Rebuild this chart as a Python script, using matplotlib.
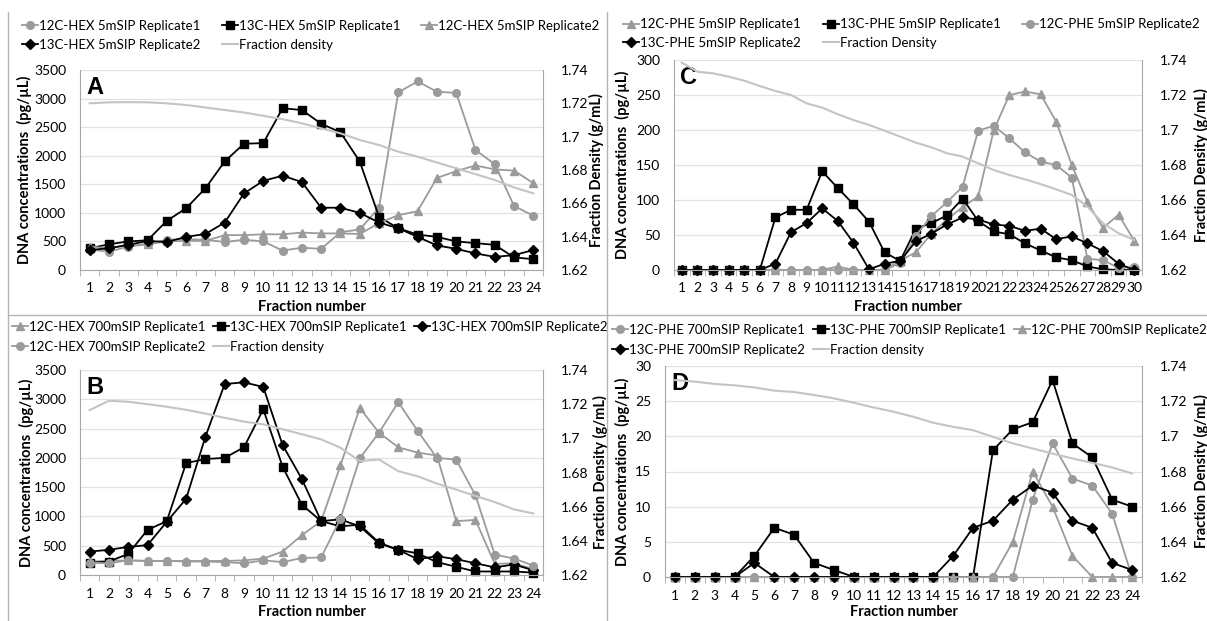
import matplotlib
matplotlib.use("Agg")
import matplotlib.pyplot as plt
from matplotlib.lines import Line2D
from matplotlib.ticker import FuncFormatter
import numpy as np

plt.rcParams['font.family'] = ['Lato', 'DejaVu Sans']

frac24 = list(range(1, 25))
frac30 = list(range(1, 31))

# panel A - HEX 5mSIP
a_12c_r1 = [360, 320, 410, 450, 530, 540, 530, 490, 530, 500, 340, 390, 370, 660, 710, 1090, 3110, 3300, 3120, 3100, 2100, 1850, 1120, 950]
a_13c_r1 = [380, 450, 500, 520, 860, 1080, 1430, 1900, 2210, 2220, 2830, 2800, 2560, 2410, 1900, 930, 730, 620, 580, 500, 470, 440, 220, 190]
a_12c_r2 = [410, 380, 440, 450, 500, 510, 510, 610, 610, 625, 625, 655, 640, 640, 630, 820, 960, 1030, 1610, 1730, 1830, 1760, 1740, 1520]
a_13c_r2 = [350, 380, 440, 510, 490, 580, 630, 830, 1340, 1560, 1650, 1540, 1090, 1090, 1000, 830, 730, 580, 430, 370, 290, 230, 260, 350]
a_density = [1.7200, 1.7206, 1.7207, 1.7206, 1.7200, 1.7190, 1.7175, 1.7160, 1.7145, 1.7125, 1.7105, 1.7080,
             1.7050, 1.7020, 1.6980, 1.6950, 1.6910, 1.6880, 1.6845, 1.6810, 1.6775, 1.6740, 1.6695, 1.6660]

# panel B - HEX 700mSIP
b_12c_r1 = [230, 240, 250, 240, 240, 240, 240, 240, 250, 280, 400, 680, 920, 1870, 2850, 2430, 2180, 2090, 2040, 920, 940, 190, 200, 100]
b_13c_r1 = [210, 230, 360, 770, 920, 1910, 1980, 2000, 2180, 2830, 1850, 1200, 920, 830, 860, 550, 430, 370, 220, 140, 60, 60, 60, 40]
b_13c_r2 = [400, 430, 480, 510, 910, 1300, 2360, 3260, 3290, 3210, 2220, 1640, 920, 950, 830, 540, 430, 270, 320, 270, 200, 130, 180, 80]
b_12c_r2 = [210, 200, 250, 240, 240, 230, 230, 220, 200, 250, 220, 290, 300, 960, 1990, 2430, 2950, 2460, 2000, 1970, 1360, 350, 280, 160]
b_density = [1.7165, 1.7220, 1.7214, 1.7200, 1.7185, 1.7167, 1.7145, 1.7120, 1.7098, 1.7082, 1.7053, 1.7024,
             1.6994, 1.6945, 1.6867, 1.6876, 1.6808, 1.6778, 1.6735, 1.6700, 1.6663, 1.6627, 1.6584, 1.6560]

# panel C - PHE 5mSIP
c_12c_r1 = [0, 0, 0, 0, 0, 0, 0, 0, 0, 0, 5, 0, 0, 0, 14, 25, 52, 72, 90, 105, 200, 250, 255, 251, 212, 150, 97, 60, 79, 42]
c_13c_r1 = [0, 0, 0, 0, 0, 0, 75, 86, 86, 141, 117, 94, 69, 25, 13, 59, 67, 78, 102, 70, 55, 51, 38, 28, 18, 14, 5, 1, 0, 0]
c_12c_r2 = [0, 0, 0, 0, 0, 0, 0, 0, 0, 0, 0, 0, 0, 0, 10, 49, 77, 97, 119, 199, 206, 188, 168, 155, 150, 132, 16, 14, 3, 4]
c_13c_r2 = [0, 0, 0, 0, 0, 0, 9, 54, 67, 88, 70, 39, 1, 9, 13, 41, 52, 65, 75, 72, 65, 63, 56, 59, 44, 48, 38, 27, 9, 0]
c_density = [1.7385, 1.7333, 1.7324, 1.7305, 1.7282, 1.7251, 1.7223, 1.7200, 1.7152, 1.7128, 1.7090, 1.7057,
             1.7029, 1.6996, 1.6962, 1.6928, 1.6901, 1.6867, 1.6848, 1.6810, 1.6771, 1.6743, 1.6718, 1.6691,
             1.6661, 1.6629, 1.6562, 1.6467, 1.6410, 1.6371]

# panel D - PHE 700mSIP
d_12c_r1 = [0, 0, 0, 0, 0, 0, 0, 0, 0, 0, 0, 0, 0, 0, 0, 0, 0, 0, 11, 19, 14, 13, 9, 0]
d_13c_r1 = [0, 0, 0, 0, 3, 7, 6, 2, 1, 0, 0, 0, 0, 0, 0, 0, 18, 21, 22, 28, 19, 17, 11, 10]
d_12c_r2 = [0, 0, 0, 0, 0, 0, 0, 0, 0, 0, 0, 0, 0, 0, 0, 0, 0, 5, 15, 10, 3, 0, 0, 0]
d_13c_r2 = [0, 0, 0, 0, 2, 0, 0, 0, 0, 0, 0, 0, 0, 0, 3, 7, 8, 11, 13, 12, 8, 7, 2, 1]
d_density = [1.7320, 1.7311, 1.7298, 1.7290, 1.7278, 1.7260, 1.7252, 1.7235, 1.7216, 1.7191, 1.7164, 1.7140,
             1.7111, 1.7077, 1.7054, 1.7035, 1.6997, 1.6960, 1.6931, 1.6902, 1.6874, 1.6849, 1.6823, 1.6789]

GRAY = '#9b9b9b'
BLACK = '#000000'
DENS = '#c4c4c4'
AXC = '#a8a8a8'
W, H = 1207, 621

marks = {
    'o': dict(marker='o', ms=5.5),
    's': dict(marker='s', ms=5.3),
    '^': dict(marker='^', ms=6.2),
    'D': dict(marker='D', ms=4.6),
}


def px_rect(l, r, t, b):
    return [l / W, 1 - b / H, (r - l) / W, (b - t) / H]


def panel(box, x, series, density, dens_label, ymax, ystep, letter,
          leg_cols, leg_top, leg_gap, ylab_x, rlab_x, xlab_y):
    ax = fig.add_axes(px_rect(*box))
    ax2 = ax.twinx()
    hs = []
    for label, vals, color, mk in series:
        h, = ax.plot(x, vals, color=color, lw=1.3, mec=color, mfc=color,
                     clip_on=False, label=label, **marks[mk])
        hs.append(h)
    hd, = ax2.plot(x, density, color=DENS, lw=1.5, label=dens_label)

    n = len(x)
    ax.set_xlim(0.5, n + 0.5)
    ax.set_ylim(0, ymax)
    ax.set_yticks(np.arange(0, ymax + ystep / 2, ystep))
    ax2.set_ylim(1.62, 1.74)
    ax2.set_yticks([1.62, 1.64, 1.66, 1.68, 1.70, 1.72, 1.74])
    ax2.yaxis.set_major_formatter(FuncFormatter(lambda v, p: '{:g}'.format(round(v, 2))))
    ax.set_xticks(x)
    ax.set_xticks(np.arange(0.5, n + 1), minor=True)

    ax.yaxis.grid(True, color='#e2e2e2', lw=0.9)
    ax.set_axisbelow(True)
    for s in ['top', 'right']:
        ax.spines[s].set_visible(False)
    for s in ['top', 'left', 'bottom']:
        ax2.spines[s].set_visible(False)
    ax.spines['left'].set_color(AXC)
    ax.spines['bottom'].set_color(AXC)
    ax2.spines['right'].set_color(AXC)

    ax.tick_params(axis='x', which='major', length=0, pad=9, labelsize=10)
    ax.tick_params(axis='x', which='minor', length=4, color=AXC)
    ax.tick_params(axis='y', length=0, pad=10, labelsize=10)
    ax2.tick_params(axis='y', length=0, pad=12.5, labelsize=10)

    ax.set_ylabel('DNA concentrations  (pg/µL)', fontsize=10.5, fontweight='bold')
    ax.yaxis.set_label_coords(ylab_x, 0.5)
    ax2.set_ylabel('Fraction Density (g/mL)', fontsize=10.5, fontweight='bold')
    ax2.yaxis.set_label_coords(rlab_x, 0.5)
    ax.set_xlabel('Fraction number', fontsize=10.5, fontweight='bold')
    ax.xaxis.set_label_coords(0.5, xlab_y)

    ax.text(0.013, 0.97, letter, transform=ax.transAxes, ha='left', va='top',
            fontsize=17, fontweight='bold', family='Liberation Sans')

    # Excel-style legend: filled row by row, columns at fixed positions
    cols = [[hs[0], hs[3]], [hs[1], hd], [hs[2]]]
    for xc, col in zip(leg_cols, cols):
        fig.legend(col, [h.get_label() for h in col], loc='upper left',
                   bbox_to_anchor=(xc / W, 1 - leg_top / H),
                   frameon=False, fontsize=9.5, handlelength=1.2,
                   handletextpad=0.1, labelspacing=leg_gap,
                   borderpad=0, borderaxespad=0)
    return ax


fig = plt.figure(figsize=(W / 100, H / 100), dpi=100)

panel((80, 543, 70, 270), frac24,
      [('12C-HEX 5mSIP Replicate1', a_12c_r1, GRAY, 'o'),
       ('13C-HEX 5mSIP Replicate1', a_13c_r1, BLACK, 's'),
       ('12C-HEX 5mSIP Replicate2', a_12c_r2, GRAY, '^'),
       ('13C-HEX 5mSIP Replicate2', a_13c_r2, BLACK, 'D')],
      a_density, 'Fraction density', 3500, 500, 'A',
      (22, 222, 421), 20, 0.5, -0.104, 1.099, -0.15)

panel((674, 1142, 60, 270), frac30,
      [('12C-PHE 5mSIP Replicate1', c_12c_r1, GRAY, '^'),
       ('13C-PHE 5mSIP Replicate1', c_13c_r1, BLACK, 's'),
       ('12C-PHE 5mSIP Replicate2', c_12c_r2, GRAY, 'o'),
       ('13C-PHE 5mSIP Replicate2', c_13c_r2, BLACK, 'D')],
      c_density, 'Fraction Density', 300, 50, 'C',
      (623, 823, 1022), 18.5, 0.5, -0.095, 1.111, -0.143)

panel((80, 543, 370, 575), frac24,
      [('12C-HEX 700mSIP Replicate1', b_12c_r1, GRAY, '^'),
       ('13C-HEX 700mSIP Replicate1', b_13c_r1, BLACK, 's'),
       ('13C-HEX 700mSIP Replicate2', b_13c_r2, BLACK, 'D'),
       ('12C-HEX 700mSIP Replicate2', b_12c_r2, GRAY, 'o')],
      b_density, 'Fraction density', 3500, 500, 'B',
      (12, 213, 414), 321, 0.6, -0.10, 1.108, -0.146)

panel((665, 1142, 366, 577), frac24,
      [('12C-PHE 700mSIP Replicate1', d_12c_r1, GRAY, 'o'),
       ('13C-PHE 700mSIP Replicate1', d_13c_r1, BLACK, 's'),
       ('12C-PHE 700mSIP Replicate2', d_12c_r2, GRAY, '^'),
       ('13C-PHE 700mSIP Replicate2', d_13c_r2, BLACK, 'D')],
      d_density, 'Fraction density', 30, 5, 'D',
      (612, 813, 1014), 324, 0.6, -0.073, 1.109, -0.133)

# panel frames
for xs, ys in [((8, 8), (12, H)), ((607, 607), (12, H)), ((8, W), (315, 315))]:
    fig.add_artist(Line2D([v / W for v in xs], [1 - v / H for v in ys],
                          transform=fig.transFigure, color='#b5b5b5', lw=1))

fig.savefig('out.png', dpi=100)
